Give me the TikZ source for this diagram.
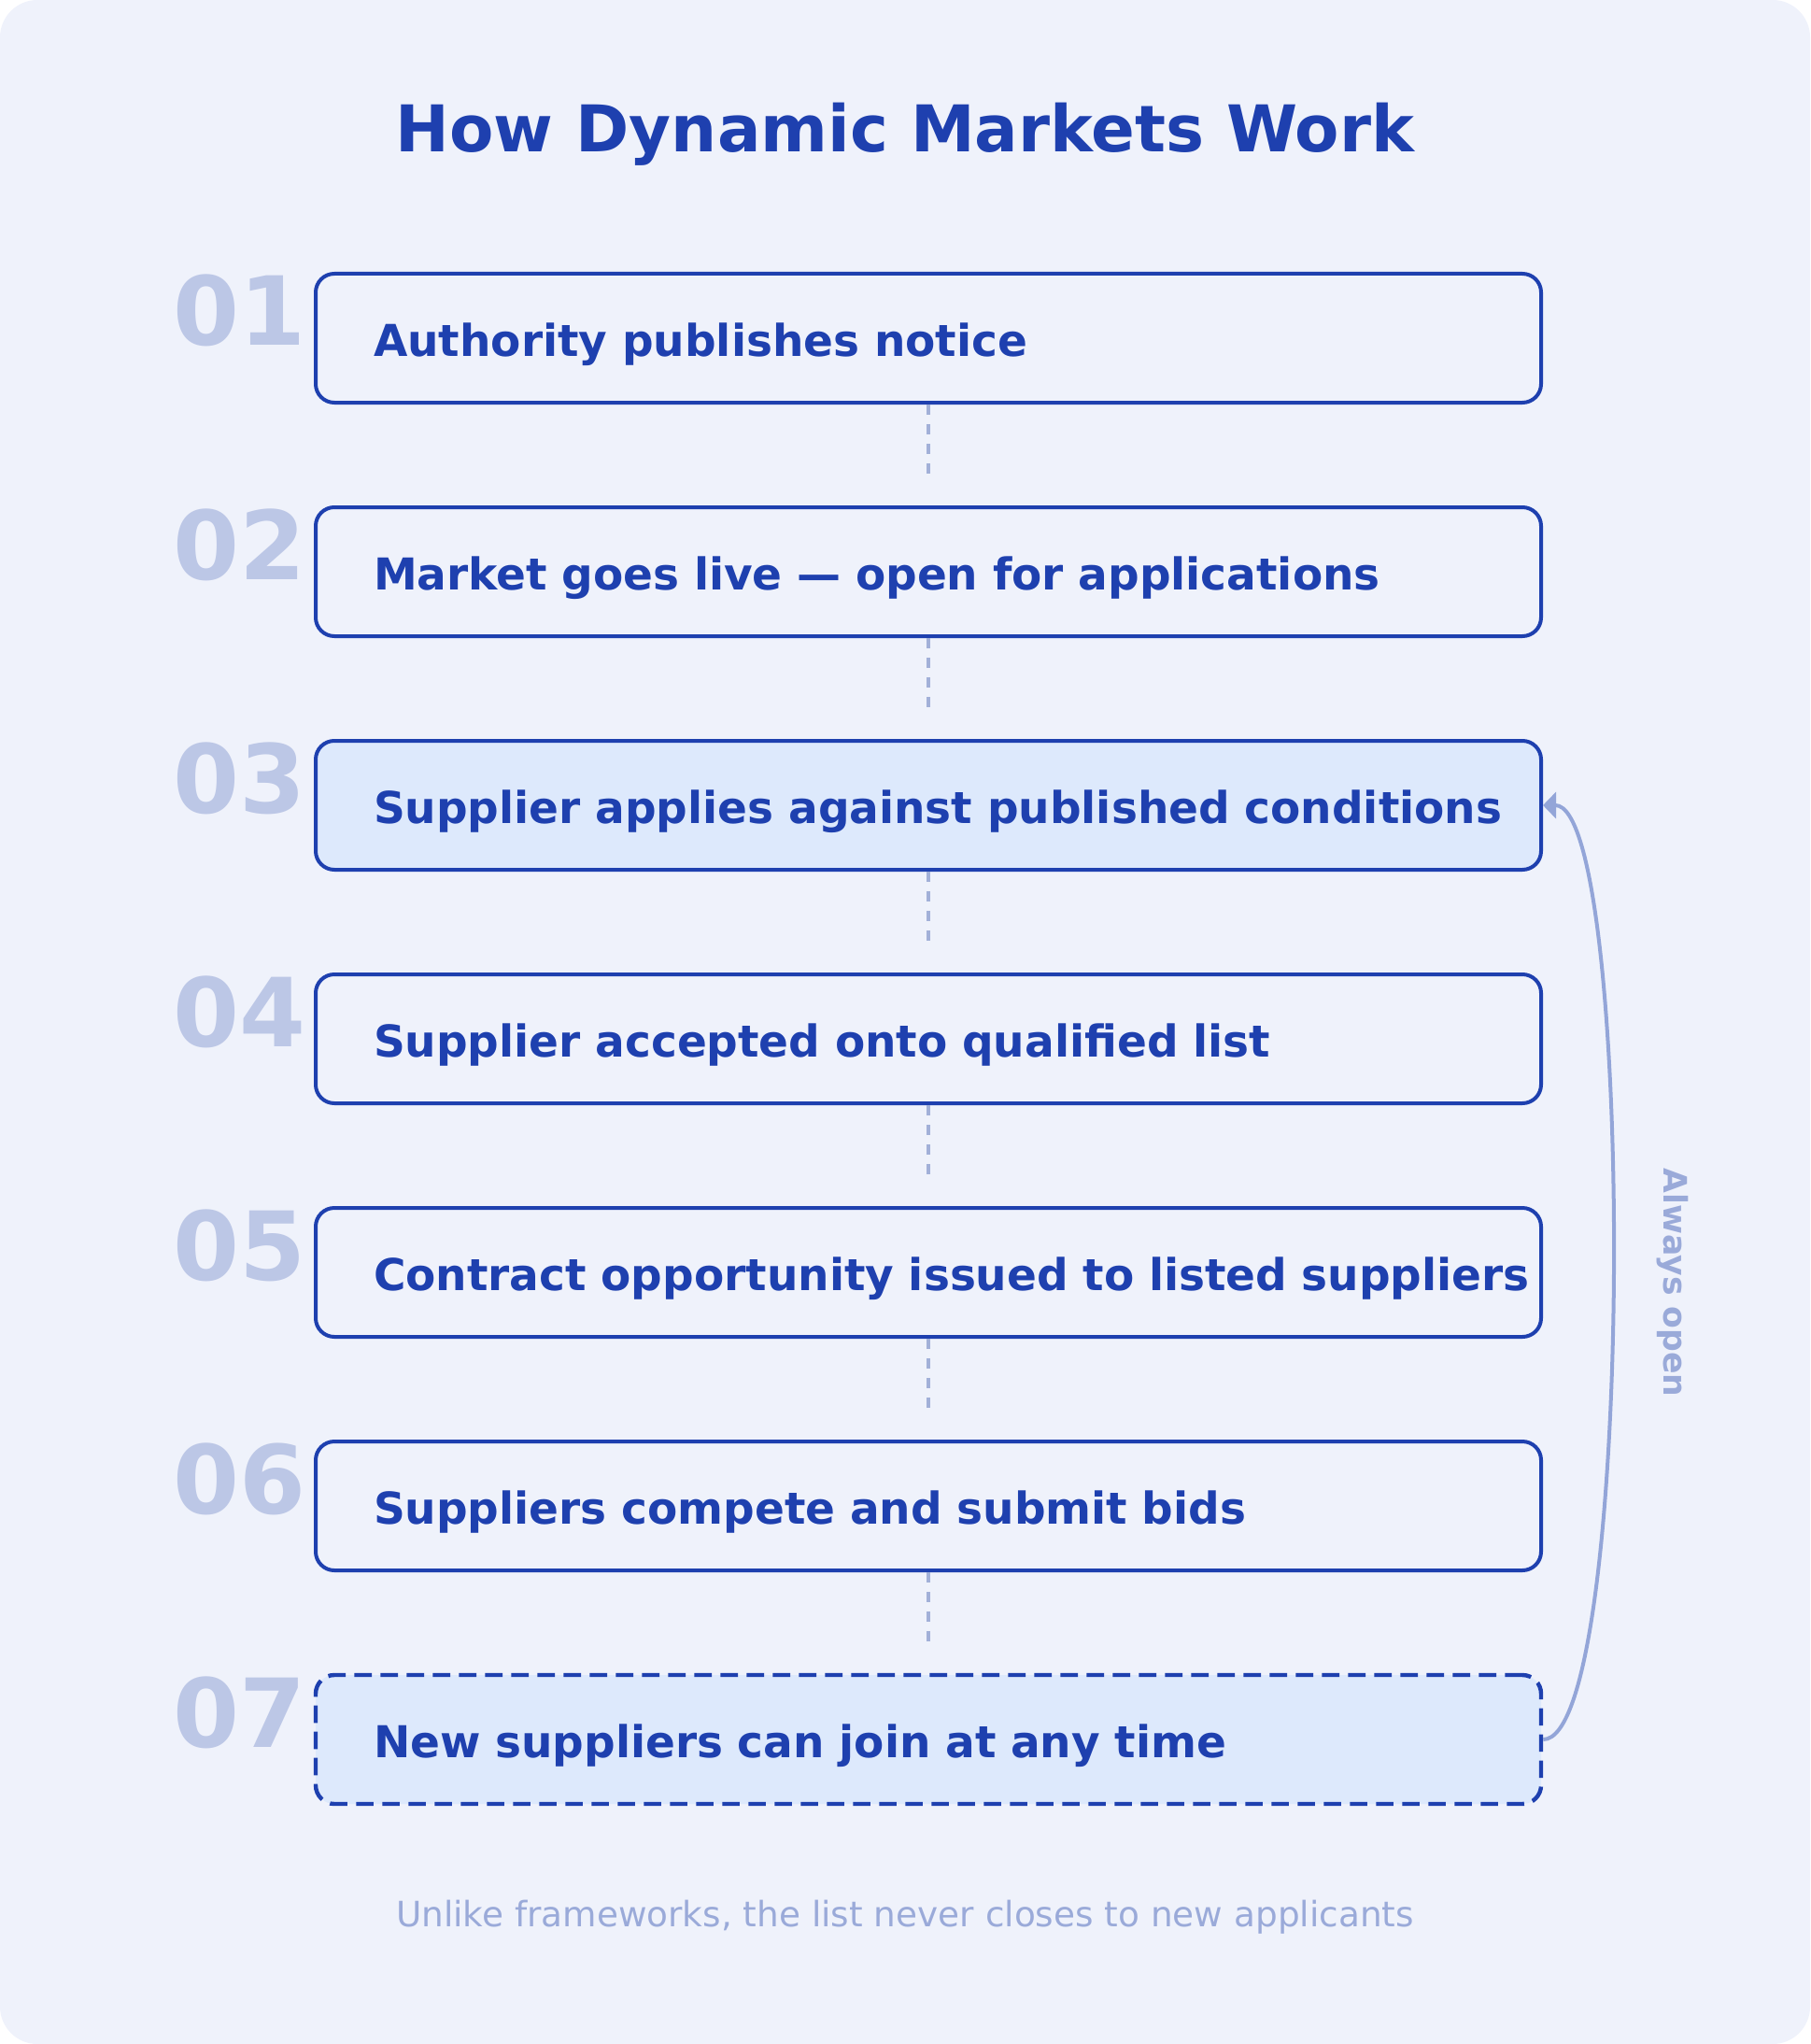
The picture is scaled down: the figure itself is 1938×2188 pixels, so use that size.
\documentclass[tikz,border=0pt]{standalone}
\usepackage{fontspec}
\setmainfont{DejaVu Sans}
\usepackage{tikz}
\usetikzlibrary{arrows.meta,positioning}
\definecolor{pagebg}{HTML}{EFF2FB}
\definecolor{stepblue}{HTML}{1E40AF}
\definecolor{hilite}{HTML}{DDE9FC}
\definecolor{numgrey}{HTML}{BCC7E6}
\definecolor{linkgrey}{HTML}{A2B0D8}
\definecolor{arcblue}{HTML}{93A5D8}
\definecolor{notegrey}{HTML}{9AAAD9}

\begin{document}
\begin{tikzpicture}[x=0.5pt,y=-0.5pt,
  stepbox/.style={draw=stepblue,line width=2pt,fill=pagebg,rounded corners=10pt,
    minimum width=656pt,minimum height=69pt,text width=594pt,inner xsep=31pt,inner ysep=0pt,
    align=left,text height=19pt,text depth=0pt,text=stepblue,
    font=\fontsize{23.5}{28}\selectfont\bfseries},
  openbox/.style={stepbox,fill=hilite},
  num/.style={anchor=base east,inner sep=0pt,text=numgrey,font=\fontsize{51}{60}\selectfont\bfseries},
  link/.style={draw=linkgrey,line width=1.8pt,dash pattern=on 5.5pt off 5pt,shorten >=17pt},
  backarc/.style={draw=arcblue,line width=2pt,-{Triangle[length=7pt,width=14pt]}},
  heading/.style={anchor=base,inner sep=0pt,text=stepblue,font=\fontsize{34.5}{40}\selectfont\bfseries},
  note/.style={anchor=base,inner sep=0pt,text=notegrey,font=\fontsize{18.7}{22}\selectfont},
  sidenote/.style={rotate=-90,inner sep=0pt,text=notegrey,font=\fontsize{17.3}{20}\selectfont\bfseries}]

\useasboundingbox (0,0) rectangle (1938,2188);
\fill[pagebg,rounded corners=20pt] (0,0) rectangle (1938,2188);

\node[heading] (title) at (969,163) {How Dynamic Markets Work};

\node[stepbox] (b1) at (994,362)  {Authority publishes notice};
\node[stepbox] (b2) at (994,612)  {Market goes live --- open for applications};
\node[openbox] (b3) at (994,862)  {\mbox{Supplier applies against published conditions}};
\node[stepbox] (b4) at (994,1112) {Supplier accepted onto qualified list};
\node[stepbox] (b5) at (994,1362) {\mbox{Contract opportunity issued to listed suppliers}};
\node[stepbox] (b6) at (994,1612) {Suppliers compete and submit bids};
\node[openbox,line width=2.2pt,dash pattern=on 9.3pt off 4.7pt] (b7) at (994,1862) {New suppliers can join at any time};

\node[num] (n1) at (328,370)  {01};
\node[num] (n2) at (328,620)  {02};
\node[num] (n3) at (328,870)  {03};
\node[num] (n4) at (328,1120) {04};
\node[num] (n5) at (328,1370) {05};
\node[num] (n6) at (328,1620) {06};
\node[num] (n7) at (328,1870) {07};

\draw[link] (b1.south) -- (b2.north);
\draw[link] (b2.south) -- (b3.north);
\draw[link] (b3.south) -- (b4.north);
\draw[link] (b4.south) -- (b5.north);
\draw[link] (b5.south) -- (b6.north);
\draw[link] (b6.south) -- (b7.north);

% feedback: the list stays open
\draw[backarc] (b7.east) .. controls +(99,0) and +(99,0) .. (b3.east);
\node[sidenote] (always) at (1791,1373) {Always open};

\node[note] (footer) at (969,2062) {Unlike frameworks, the list never closes to new applicants};
\end{tikzpicture}
\end{document}
